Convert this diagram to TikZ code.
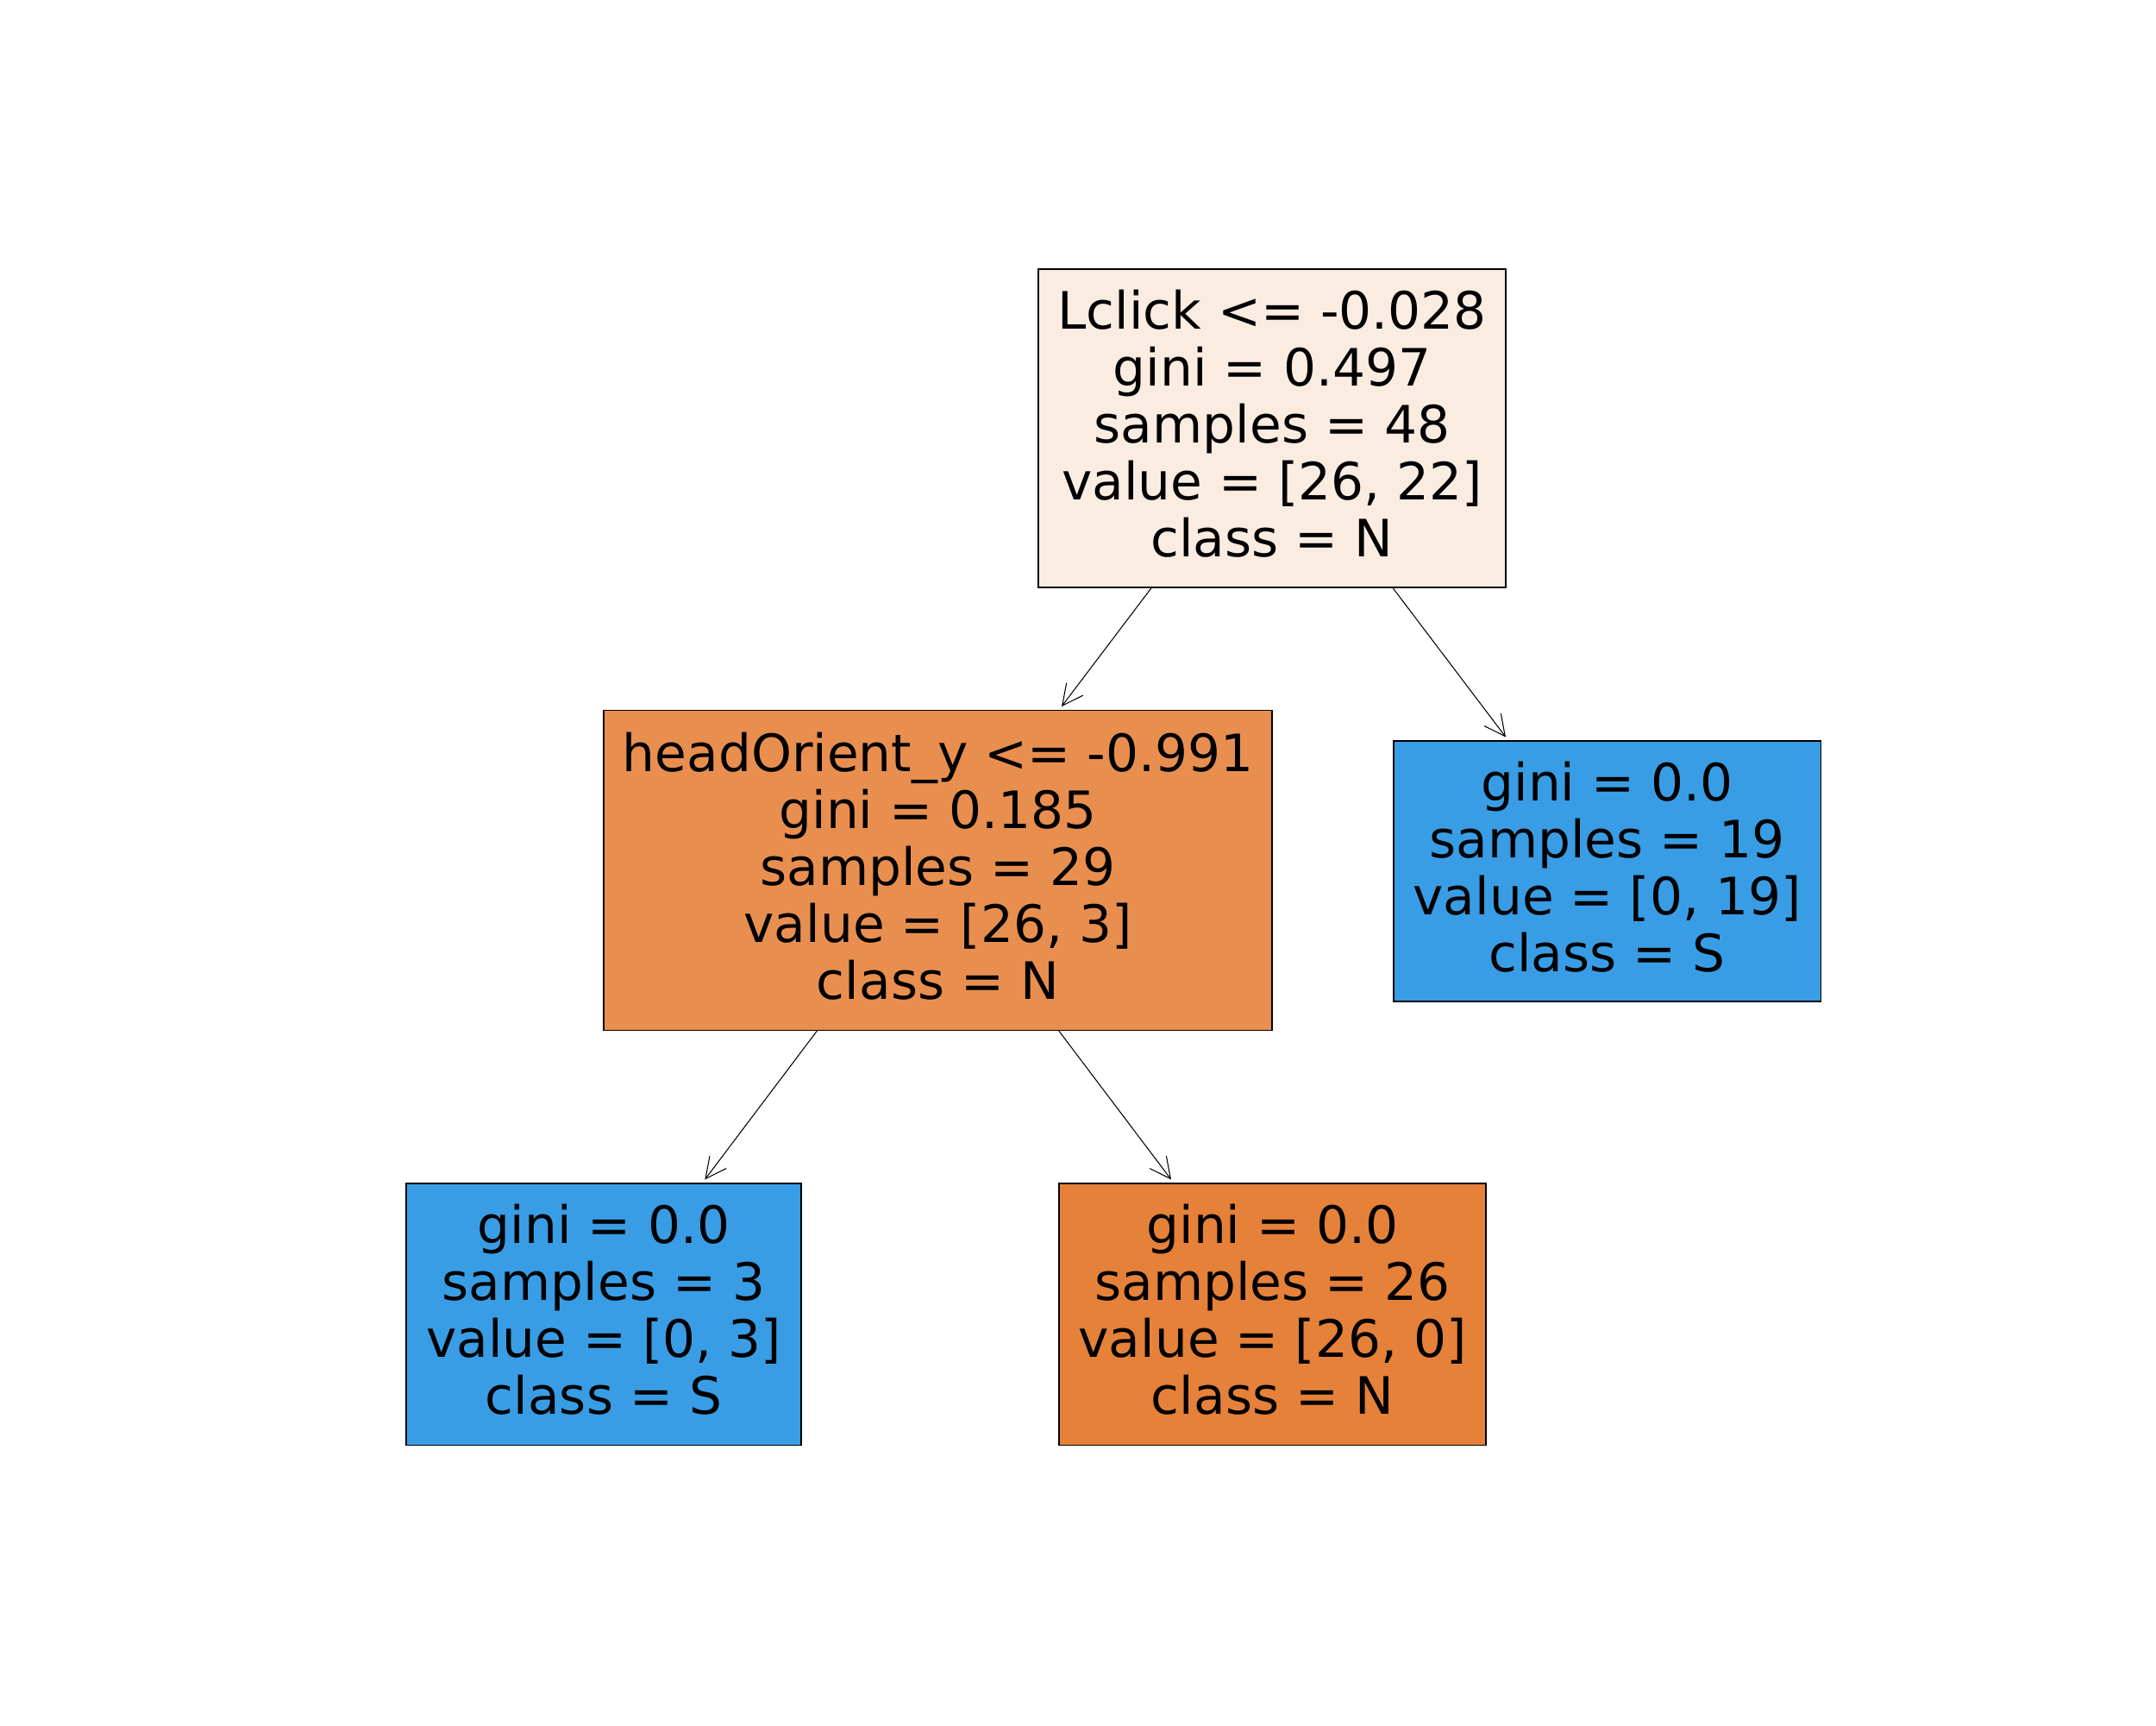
\documentclass[tikz,border=0pt]{standalone}
\usepackage{fontspec}
\setmainfont{DejaVu Sans}
\usetikzlibrary{arrows.meta}
\definecolor{rootc}{RGB}{251,236,225}
\definecolor{midc}{RGB}{232,143,80}
\definecolor{orangec}{RGB}{229,129,57}
\definecolor{bluec}{RGB}{57,157,229}
\tikzset{
  treebox/.style={draw=black, line width=0.3pt, inner sep=0pt},
  treetext/.style={inner sep=0pt, align=center, yshift=0.05cm,
    font=\fontsize{17}{18.75}\selectfont},
  treeedge/.style={draw=black, line width=0.3pt,
    -{Straight Barb[length=2.4mm, width=2.4mm, line width=0.3pt]}, shorten >=0.5mm}
}
\begin{document}
\begin{tikzpicture}
\useasboundingbox (0,0) rectangle (25,-20);
\node[treebox, fill=rootc, minimum width=5.42cm, minimum height=3.69cm,
  label={[treetext]center:{Lclick <= -0.028\\gini = 0.497\\samples = 48\\value = [26, 22]\\class = N}}]
  (root) at (14.75,-4.965) {};
\node[treebox, fill=midc, minimum width=7.75cm, minimum height=3.71cm,
  label={[treetext]center:{headOrient\_y <= -0.991\\gini = 0.185\\samples = 29\\value = [26, 3]\\class = N}}]
  (head) at (10.875,-10.09) {};
\node[treebox, fill=bluec, minimum width=4.95cm, minimum height=3.02cm,
  label={[treetext]center:{gini = 0.0\\samples = 19\\value = [0, 19]\\class = S}}]
  (rleaf) at (18.635,-10.10) {};
\node[treebox, fill=bluec, minimum width=4.58cm, minimum height=3.03cm,
  label={[treetext]center:{gini = 0.0\\samples = 3\\value = [0, 3]\\class = S}}]
  (bleft) at (7.00,-15.235) {};
\node[treebox, fill=orangec, minimum width=4.95cm, minimum height=3.03cm,
  label={[treetext]center:{gini = 0.0\\samples = 26\\value = [26, 0]\\class = N}}]
  (bmid) at (14.755,-15.235) {};
\draw[treeedge] (root) -- (head);
\draw[treeedge] (root) -- (rleaf);
\draw[treeedge] (head) -- (bleft);
\draw[treeedge] (head) -- (bmid);
\end{tikzpicture}
\end{document}
